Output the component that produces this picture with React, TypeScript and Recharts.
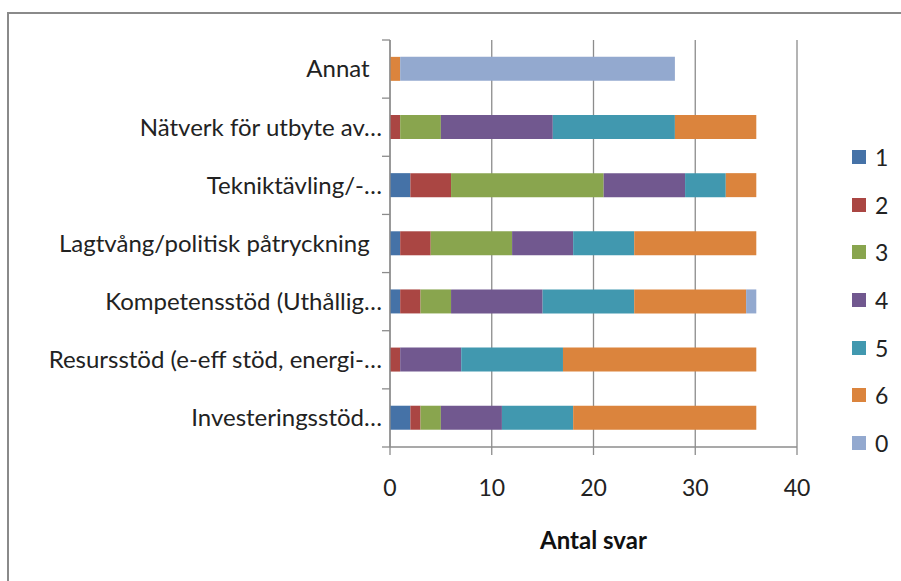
import React from 'react';
import { BarChart, Bar, XAxis, YAxis, CartesianGrid, Legend, Label } from 'recharts';

// categories, top to bottom as in the picture
const categories = [
    'Annat  ',
    'Nätverk för utbyte av…',
    'Tekniktävling/-…',
    'Lagtvång/politisk påtryckning  ',
    'Kompetensstöd (Uthållig…',
    'Resursstöd (e-eff stöd, energi-…',
    'Investeringsstöd…',
];

// answers per grade, same order as categories
const grade1 = [0, 0, 2, 1, 1, 0, 2];
const grade2 = [0, 1, 4, 3, 2, 1, 1];
const grade3 = [0, 4, 15, 8, 3, 0, 2];
const grade4 = [0, 11, 8, 6, 9, 6, 6];
const grade5 = [0, 12, 4, 6, 9, 10, 7];
const grade6 = [1, 8, 3, 12, 11, 19, 18];
const grade0 = [27, 0, 0, 0, 1, 0, 0];

const xTicks = [0, 10, 20, 30, 40];

const series = [
    { key: 'g1', name: '1', values: grade1, color: '#4572A7' },
    { key: 'g2', name: '2', values: grade2, color: '#AA4643' },
    { key: 'g3', name: '3', values: grade3, color: '#89A54E' },
    { key: 'g4', name: '4', values: grade4, color: '#71588F' },
    { key: 'g5', name: '5', values: grade5, color: '#4198AF' },
    { key: 'g6', name: '6', values: grade6, color: '#DB843D' },
    { key: 'g0', name: '0', values: grade0, color: '#93A9CF' },
];

const data = categories.map((name, i) => {
    const row: any = { name };
    series.forEach(s => { row[s.key] = s.values[i]; });
    return row;
});

const FONT = 'Lato, "Liberation Sans", sans-serif';
const GRID = '#8c8c8c';

const CategoryTick = (props: any) => {
    const { x, y, payload, index } = props;
    const half = payload?.offset ?? 29;
    return (
        <g>
            <text x={x} y={y} dy="0.35em" textAnchor="end" fill="#222" fontSize={24} fontFamily={FONT} style={{ whiteSpace: 'pre' }}>
                {payload.value}
            </text>
            <line x1={x} x2={x + 8} y1={y + half} y2={y + half} stroke={GRID} strokeWidth={1.3} />
            {index === 0 && <line x1={x} x2={x + 8} y1={y - half} y2={y - half} stroke={GRID} strokeWidth={1.3} />}
        </g>
    );
};

const LegendList = () => (
    <div style={{ fontFamily: FONT }}>
        {series.map(s => (
            <div key={s.key} style={{ display: 'flex', alignItems: 'center', height: 47.7 }}>
                <span style={{ width: 14, height: 14, background: s.color, display: 'inline-block', marginRight: 9 }} />
                <span style={{ fontSize: 23, color: '#222' }}>{s.name}</span>
            </div>
        ))}
    </div>
);

export default function App() {
    return (
        <div style={{ position: 'absolute', left: 0, top: 0, width: 901, height: 581, overflow: 'hidden', background: '#fff' }}>
            <div style={{ position: 'absolute', left: 7, top: 12, width: 1000, height: 700, border: '2px solid #8a8a8a' }} />
            <div style={{ position: 'absolute', left: 0, top: 0 }}>
                <BarChart
                    width={901}
                    height={581}
                    data={data}
                    layout="vertical"
                    barCategoryGap="29%"
                    margin={{ top: 40, right: 104, bottom: 34, left: 0 }}
                >
                    <CartesianGrid horizontal={false} vertical stroke={GRID} strokeWidth={1.3} />
                    <XAxis
                        type="number"
                        domain={[0, 40]}
                        ticks={xTicks}
                        height={100}
                        axisLine={{ stroke: GRID, strokeWidth: 1.3 }}
                        tickLine={{ stroke: GRID, strokeWidth: 1.3 }}
                        tickSize={8}
                        tickMargin={25}
                        tick={{ fill: '#222', fontSize: 23, fontFamily: FONT }}
                    >
                        <Label value="Antal svar" position="insideBottom" offset={-2} style={{ fontWeight: 700, fontSize: 24, fill: '#111', fontFamily: FONT }} />
                    </XAxis>
                    <YAxis
                        type="category"
                        dataKey="name"
                        width={390}
                        axisLine={{ stroke: GRID, strokeWidth: 1.3 }}
                        tickLine={false}
                        tickSize={8}
                        tickMargin={0}
                        tick={<CategoryTick />}
                        interval={0}
                    />
                    <Legend
                        layout="horizontal"
                        align="center"
                        verticalAlign="middle"
                        content={<LegendList />}
                        wrapperStyle={{ left: 852, top: 133, width: 50 }}
                    />
                    {series.map(s => (
                        <Bar key={s.key} dataKey={s.key} name={s.name} stackId="a" fill={s.color} isAnimationActive={false} />
                    ))}
                </BarChart>
            </div>
        </div>
    );
}
